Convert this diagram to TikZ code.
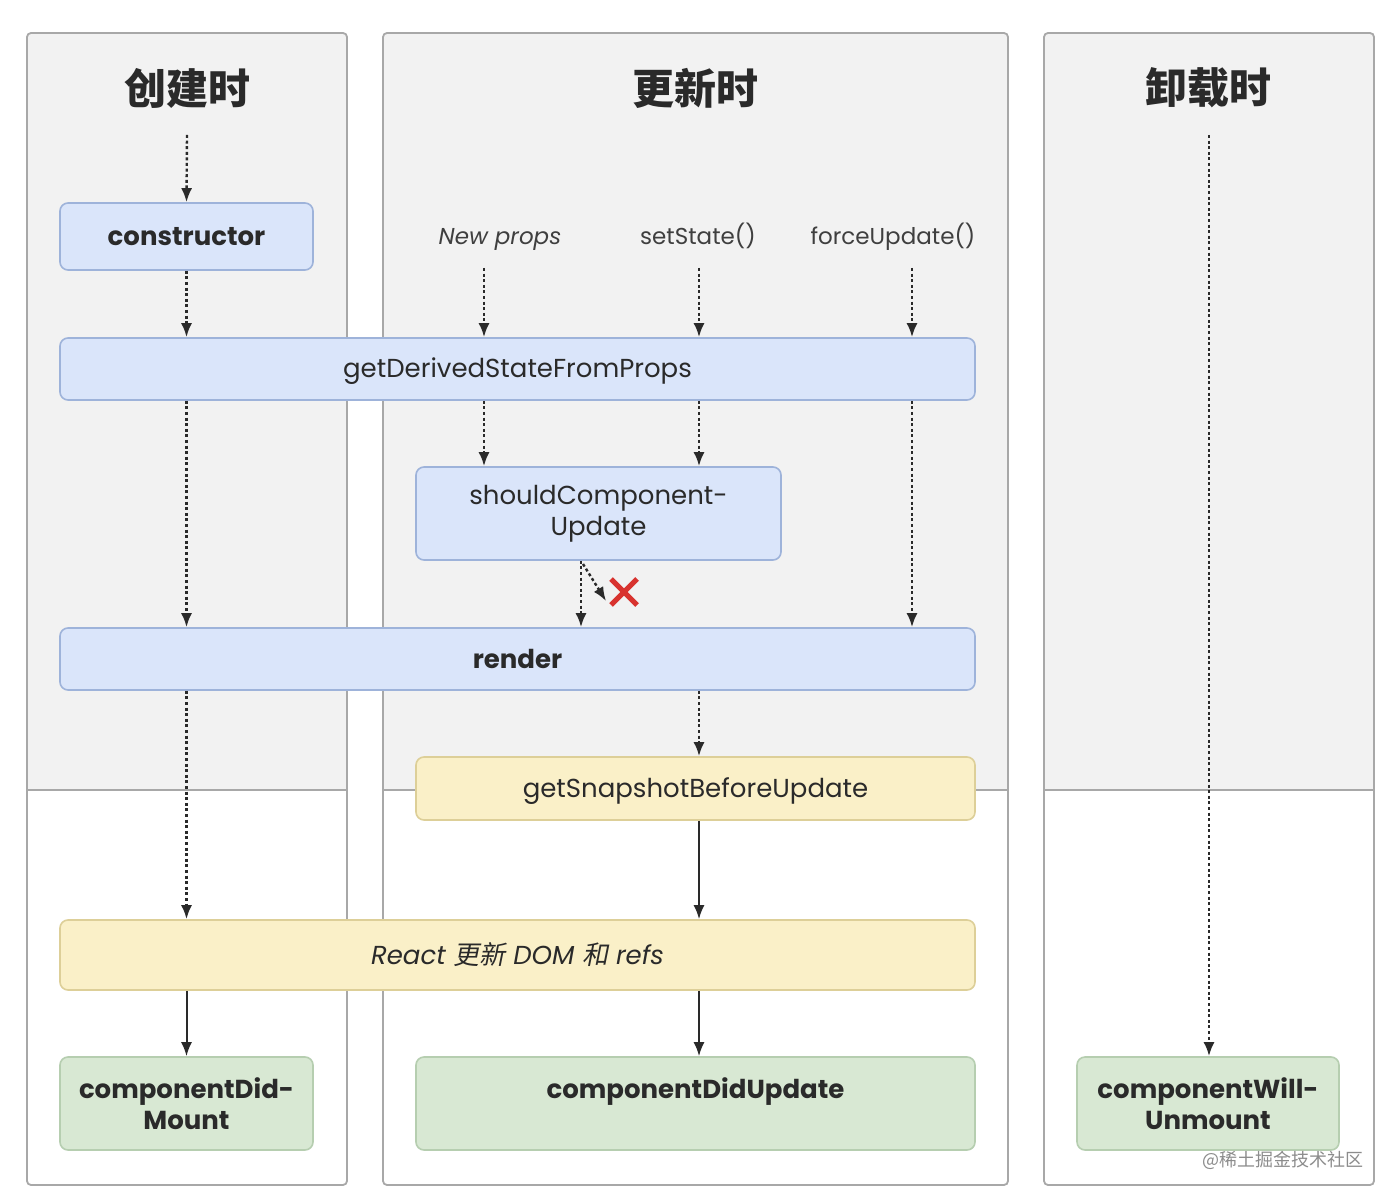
\documentclass[tikz,border=0pt]{standalone}
\usepackage{fontspec}
\setmainfont{Poppins}
\newfontfamily\cjk{Noto Sans CJK SC}
\newfontfamily\cjkit{Noto Sans CJK SC}[FakeSlant=0.2]
\usetikzlibrary{arrows.meta}
\definecolor{panelgray}{HTML}{F2F2F2}
\definecolor{panelline}{HTML}{A8A8A8}
\definecolor{bluefill}{HTML}{DAE5FA}
\definecolor{blueline}{HTML}{9EB3DA}
\definecolor{yelfill}{HTML}{FAF0C8}
\definecolor{yelline}{HTML}{DDCF98}
\definecolor{grnfill}{HTML}{D8E8D3}
\definecolor{grnline}{HTML}{B6CEB0}
\definecolor{txt}{HTML}{2A2A2A}
\definecolor{xred}{HTML}{D8332F}
\tikzset{
  panel/.style={draw=panelline, line width=0.9pt, rounded corners=2pt},
  box/.style={draw, line width=0.8pt, rounded corners=4pt, align=center, text=txt, font=\fontsize{13}{15.5}\selectfont, inner sep=0pt},
  oneline/.style={text height=10pt, text depth=1pt},
  boldtext/.style={font=\fontsize{13}{15.5}\selectfont\bfseries},
  bluebox/.style={box, fill=bluefill, draw=blueline},
  yelbox/.style={box, fill=yelfill, draw=yelline},
  grnbox/.style={box, fill=grnfill, draw=grnline},
  title/.style={font=\cjk\bfseries\fontsize{21}{24}\selectfont, text=txt},
  trig/.style={font=\fontsize{11.5}{13}\selectfont, text=txt!90, text height=9pt, text depth=1pt},
  dotarrow/.style={line width=1.2pt, dash pattern=on 1.5pt off 1.3pt, -{Latex[length=7pt,width=5.5pt]}, draw=txt},
  solidarrow/.style={line width=1pt, -{Latex[length=7pt,width=5.5pt]}, draw=txt},
}
\begin{document}
\begin{tikzpicture}[x=0.5pt,y=-0.5pt]
\fill[white] (0,0) rectangle (1400,1202);
\useasboundingbox (0,0) rectangle (1400,1202);
% panels
\foreach \xa/\xb in {27/347, 383/1008, 1044/1374}{
  \fill[panelgray, rounded corners=2pt] (\xa,33) -- (\xb,33) -- (\xb,790) -- (\xa,790) -- cycle;
  \draw[panelline, line width=0.7pt] (\xa,790) -- (\xb,790);
  \draw[panel] (\xa,33) rectangle (\xb,1185);
}
% titles
\node[title] (t1) at (187,88) {创建时};
\node[title] (t2) at (695,88) {更新时};
\node[title] (t3) at (1208,88) {卸载时};
% trigger labels
\node[trig] (np) at (500,237) {\itshape New props};
\node[trig] (ss) at (698,237) {setState()};
\node[trig] (fu) at (893,237) {forceUpdate()};
% boxes
\node[bluebox, oneline, boldtext, minimum width=126.5pt, minimum height=33.5pt] (ctor) at (186.5,236.5) {constructor};
\node[bluebox, oneline, minimum width=457.5pt, minimum height=31pt] (gdsfp) at (517.5,369) {getDerivedStateFromProps};
\node[bluebox, minimum width=182.5pt, minimum height=46.5pt] (scu) at (598.5,513.5) {shouldComponent-\\Update};
\node[bluebox, oneline, boldtext, minimum width=457.5pt, minimum height=31pt] (render) at (517.5,659) {render};
\node[yelbox, oneline, minimum width=279.5pt, minimum height=31.5pt] (gsbu) at (695.5,788.5) {getSnapshotBeforeUpdate};
\node[yelbox, oneline, minimum width=457.5pt, minimum height=35pt] (dom) at (517.5,955) {\itshape React {\cjkit 更新} DOM {\cjkit 和} refs};
\node[grnbox, boldtext, minimum width=126.5pt, minimum height=46.5pt] (cdm) at (186.5,1103.5) {componentDid-\\Mount};
\node[grnbox, boldtext, minimum width=279.5pt, minimum height=46.5pt] (cdu) at (695.5,1103.5) {componentDidUpdate\\\vphantom{Mount}};
\node[grnbox, boldtext, minimum width=131pt, minimum height=46.5pt] (cwu) at (1208,1103.5) {componentWill-\\Unmount};
% free-end coordinates
\coordinate (c1) at (187,135);
\coordinate (c3) at (1209,135);
\coordinate (a1) at (484,268);
\coordinate (a2) at (699,268);
\coordinate (a3) at (912,268);
\coordinate (a4) at (581,0);
\coordinate (x1) at (583,564);
\coordinate (x2) at (606,601);
% column 1
\draw[dotarrow] (c1) -- (ctor.north);
\draw[dotarrow] (ctor.south) -- (ctor.south |- gdsfp.north);
\draw[dotarrow] (ctor.south |- gdsfp.south) -- (ctor.south |- render.north);
\draw[dotarrow] (ctor.south |- render.south) -- (ctor.south |- dom.north);
\draw[solidarrow] (ctor.south |- dom.south) -- (cdm.north);
% column 2
\draw[dotarrow] (a1) -- (a1 |- gdsfp.north);
\draw[dotarrow] (a2) -- (a2 |- gdsfp.north);
\draw[dotarrow] (a3) -- (a3 |- gdsfp.north);
\draw[dotarrow] (a1 |- gdsfp.south) -- (a1 |- scu.north);
\draw[dotarrow] (a2 |- gdsfp.south) -- (a2 |- scu.north);
\draw[dotarrow] (a3 |- gdsfp.south) -- (a3 |- render.north);
\draw[dotarrow] (a4 |- scu.south) -- (a4 |- render.north);
\draw[dotarrow] (x1) -- (x2);
\draw[xred, line width=2.6pt] (611,579) -- (637,605) (637,579) -- (611,605);
\draw[dotarrow] (a2 |- render.south) -- (a2 |- gsbu.north);
\draw[solidarrow] (a2 |- gsbu.south) -- (a2 |- dom.north);
\draw[solidarrow] (a2 |- dom.south) -- (a2 |- cdu.north);
% column 3
\draw[dotarrow] (c3) -- (c3 |- cwu.north);
% watermark
\node[font=\cjk\fontsize{9}{11}\selectfont, text=black!45, anchor=east] (wm) at (1371,1160) {@稀土掘金技术社区};
\end{tikzpicture}
\end{document}
